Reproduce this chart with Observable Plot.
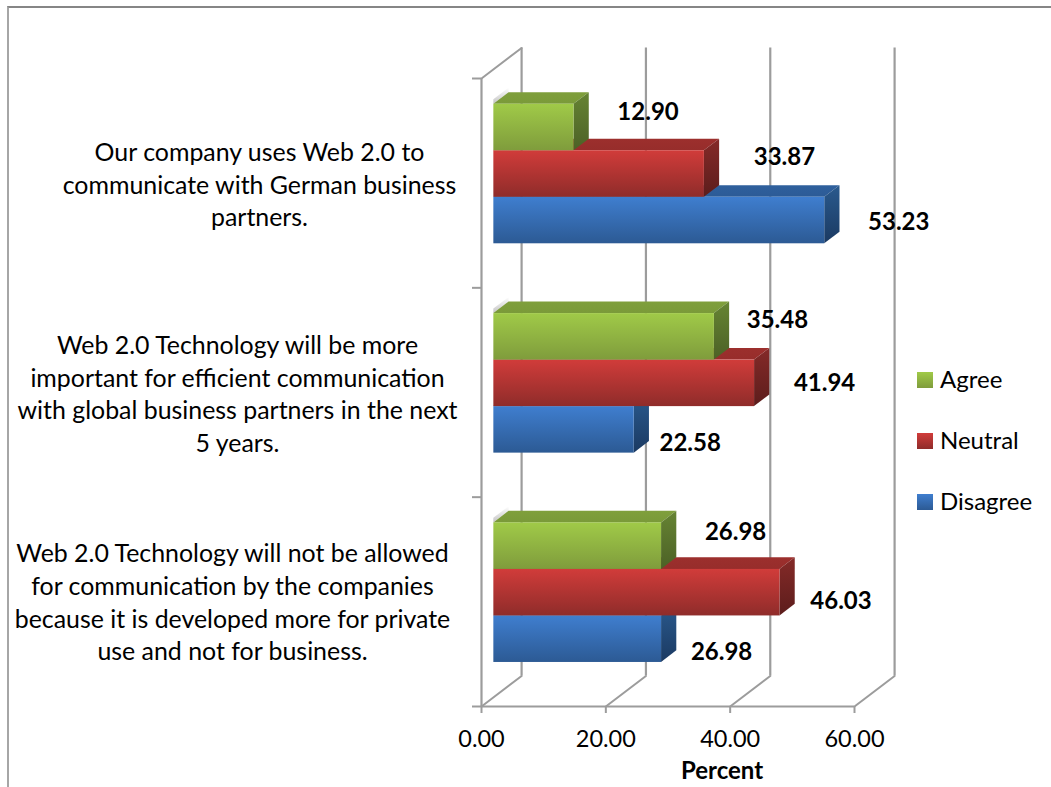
<!DOCTYPE html>
<html>
<head>
<meta charset="utf-8">
<script src="https://cdn.jsdelivr.net/npm/d3@7"></script>
<script src="https://cdn.jsdelivr.net/npm/@observablehq/plot@0.6"></script>
<style>
  html, body { margin: 0; padding: 0; background: #fff; }
  #page { position: relative; width: 1051px; height: 787px; overflow: hidden; font-family: Lato, sans-serif; color: #000; }
  #frame { position: absolute; left: 7px; top: 6px; right: -4px; bottom: -4px; border-top: 2px solid #868686; border-left: 2px solid #a6a6a6; }
  #chart { position: absolute; left: 0; top: 0; }
  .legend-item { position: absolute; left: 917px; height: 16px; }
  .legend-item i { position: absolute; left: 0; top: 0; width: 16px; height: 16px; }
  .legend-item span { position: absolute; left: 23px; top: -9px; line-height: 32px; font-size: 24px; white-space: nowrap; }
</style>
</head>
<body>
<div id="page"><div id="frame"></div><div id="chart"></div></div>
<script>
const categories = [
  "Our company uses Web 2.0 to\ncommunicate with German business\npartners.",
  "Web 2.0 Technology will be more\nimportant for efficient communication\nwith global business partners in the next\n5 years.",
  "Web 2.0 Technology will not be allowed\nfor communication by the companies\nbecause it is developed more for private\nuse and not for business."
];
const seriesNames = ["Disagree", "Neutral", "Agree"];
const disagree = [53.23, 22.58, 26.98];
const neutral = [33.87, 41.94, 46.03];
const agree = [12.90, 35.48, 26.98];
const seriesValues = [disagree, neutral, agree];
const xTicks = [0, 20, 40, 60];

// Layout and style, kept apart from the values above
const depthX = 6.45, depthY = 0.1457, zFront = 0.3, zBack = 0.68;
const barH = 2 / 9, gap = 1 / 6;
const palette = {
  Agree:    {front: ["#a0ca48", "#7f9c3c"], top: ["#7f9f3c", "#7a9a39"], side: ["#668433", "#4c6126"]},
  Neutral:  {front: ["#d13c3a", "#8f2c2a"], top: ["#9c2f2d", "#972d2b"], side: ["#852a28", "#5c1d1c"]},
  Disagree: {front: ["#3f7ecf", "#2c5a94"], top: ["#2f609d", "#2c5b96"], side: ["#2a5a8e", "#1b3a62"]}
};
const labelShift = {
  Agree: [[74, -15], [63, -17], [74, -14]],
  Neutral: [[80, -17], [70, 0], [61, 9]],
  Disagree: [[74, 2], [56, 13], [60, 13]]
};
const catLabel = [[-222, 0], [-244, 0], [-249, -1]];
const font = "Lato, sans-serif";
const axisSize = 24.9, tickSize = 23.5, labelSize = 24;
const gridColor = "#9c9c9c";

function linearGradient(id, stops) {
  const g = document.createElementNS("http://www.w3.org/2000/svg", "linearGradient");
  g.setAttribute("id", id);
  g.setAttribute("x1", 0); g.setAttribute("y1", 0); g.setAttribute("x2", 0); g.setAttribute("y2", 1);
  stops.forEach((c, i) => {
    const s = document.createElementNS("http://www.w3.org/2000/svg", "stop");
    s.setAttribute("offset", i / (stops.length - 1));
    s.setAttribute("stop-color", c);
    g.appendChild(s);
  });
  return g;
}
function defsMark() {
  const d = document.createElementNS("http://www.w3.org/2000/svg", "defs");
  for (const name of seriesNames) for (const face of ["front", "top", "side"])
    d.appendChild(linearGradient(`${name}-${face}`, palette[name][face]));
  d.appendChild(linearGradient("ghost", ["#ffffff", "#c4c4c4"]));
  return d;
}

const yOf = i => categories.length - 1 - i;      // first category is on top
const faceOpts = fill => ({x1: "x1", y1: "y1", x2: "x2", y2: "y2", z: "k", fill});

const marks = [defsMark];

// Walls: back gridlines, floor lines, the left post and its top line
marks.push(
  Plot.ruleX(xTicks, {x: d => d + depthX, y1: depthY, y2: 3 + depthY, stroke: gridColor, strokeWidth: 2.2}),
  Plot.line(xTicks.flatMap(t => [{t, x: t, y: 0}, {t, x: t + depthX, y: depthY}]),
    {x: "x", y: "y", z: "t", stroke: gridColor, strokeWidth: 2}),
  Plot.line([{x: 0, y: 3}, {x: depthX, y: 3 + depthY}], {x: "x", y: "y", stroke: gridColor, strokeWidth: 2}),
  Plot.ruleX([0], {y1: 0, y2: 3, stroke: gridColor, strokeWidth: 2.2}),
  Plot.ruleY([0], {x1: 0, x2: 60, stroke: gridColor, strokeWidth: 2})
);

// Bars, drawn series by series so that upper bars overlap lower ones
const left = depthX * zFront + 0.05;
const run = depthX * (zBack - zFront), rise = depthY * (zBack - zFront);
const lift = depthY * zFront;

marks.push(Plot.area(categories.flatMap((c, i) => {
  const t = yOf(i) + gap + 3 * barH + lift;
  return [
    {k: i, x1: left, y1: t, x2: left, y2: t + 0.022},
    {k: i, x1: left + run, y1: t + rise, x2: left + run, y2: t + rise + 0.022}
  ];
}), faceOpts("url(#ghost)")));

seriesNames.forEach((name, s) => {
  const rows = seriesValues[s].map((v, i) => {
    const b = yOf(i) + gap + s * barH + lift;
    return {k: i, v, x1: left, x2: left + v, y1: b, y2: b + barH};
  });
  marks.push(
    Plot.area(rows.flatMap(r => [
      {k: r.k, x1: r.x1, y1: r.y2, x2: r.x2, y2: r.y2},
      {k: r.k, x1: r.x1 + run, y1: r.y2 + rise, x2: r.x2 + run, y2: r.y2 + rise}
    ]), faceOpts(`url(#${name}-top)`)),
    Plot.area(rows.flatMap(r => [
      {k: r.k, x1: r.x2, y1: r.y1, x2: r.x2, y2: r.y2},
      {k: r.k, x1: r.x2 + run, y1: r.y1 + rise, x2: r.x2 + run, y2: r.y2 + rise}
    ]), faceOpts(`url(#${name}-side)`)),
    Plot.rect(rows, {x1: "x1", x2: "x2", y1: "y1", y2: "y2", fill: `url(#${name}-front)`})
  );
});

// Data labels
seriesNames.forEach((name, s) => {
  seriesValues[s].forEach((v, i) => {
    const [dx, dy] = labelShift[name][i];
    marks.push(Plot.text([v], {
      x: d => d + left, y: () => yOf(i) + gap + (s + 0.5) * barH + lift,
      text: d => d.toFixed(2), dx, dy,
      fontSize: labelSize, fontWeight: 700, fontFamily: font, fill: "#000", textAnchor: "middle"
    }));
  });
});

// Category labels
categories.forEach((c, i) => {
  const [dx, dy] = catLabel[i];
  marks.push(Plot.text([c], {
    x: () => 0, y: () => yOf(i) + 0.5, text: d => d, dx, dy,
    fontSize: axisSize, fontFamily: font, fill: "#000", lineHeight: 1.31, textAnchor: "middle"
  }));
});

// Axes
marks.push(
  Plot.axisX({ticks: xTicks, tickFormat: d => d.toFixed(2), tickSize: 7, tickPadding: 17, label: null,
    fontSize: tickSize, fontFamily: font, stroke: gridColor, strokeWidth: 2, color: "#000", fill: "#000"}),
  Plot.axisY({ticks: [0, 1, 2, 3], tickFormat: () => "", tickSize: 9, label: null, stroke: gridColor, strokeWidth: 2}),
  Plot.text(["Percent"], {x: () => 38.7, y: () => 0, dy: 65, text: d => d,
    fontSize: labelSize, fontWeight: 700, fontFamily: font, fill: "#000"})
);

const plot = Plot.plot({
  width: 1051, height: 787,
  marginLeft: 481, marginRight: 197, marginTop: 78, marginBottom: 81,
  x: {domain: [0, 60]},
  y: {domain: [0, 3]},
  style: {background: "transparent", overflow: "visible"},
  marks
});
document.getElementById("chart").appendChild(plot);

// Legend: Agree on top
const page = document.getElementById("page");
const legendTop = [372, 433, 494];
[...seriesNames].reverse().forEach((name, i) => {
  const el = document.createElement("div");
  el.className = "legend-item";
  el.style.top = legendTop[i] + "px";
  const sw = document.createElement("i");
  sw.style.background = `linear-gradient(${palette[name].front[0]}, ${palette[name].front[1]})`;
  const tx = document.createElement("span");
  tx.textContent = name;
  el.append(sw, tx);
  page.appendChild(el);
});
</script>
</body>
</html>
